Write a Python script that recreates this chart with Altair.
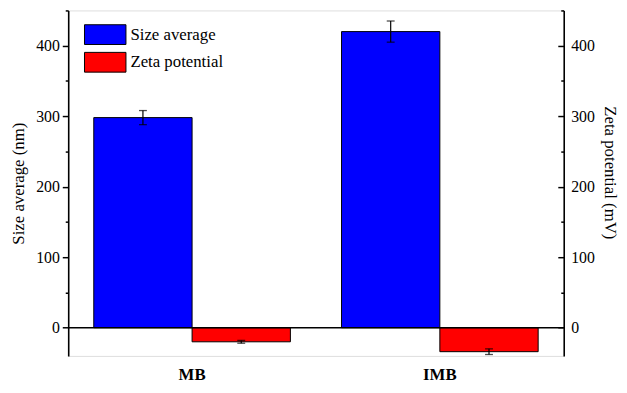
import altair as alt
import pandas as pd

categories = ["MB", "IMB"]
series = ["Size average", "Zeta potential"]
size_avg = [298, 420]
size_err = [10, 15]
zeta = [-20, -34]
zeta_err = [2, 4]
colors = ["#0000FF", "#FF0000"]
y_domain = [-40, 450]
tick_values = [0, 50, 100, 150, 200, 250, 300, 350, 400, 450]

rows = []
for i, c in enumerate(categories):
    rows.append({"sample": c, "series": series[0], "value": size_avg[i],
                 "lo": size_avg[i] - size_err[i], "hi": size_avg[i] + size_err[i]})
    rows.append({"sample": c, "series": series[1], "value": zeta[i],
                 "lo": zeta[i] - zeta_err[i], "hi": zeta[i] + zeta_err[i]})
df = pd.DataFrame(rows)
zero_df = pd.DataFrame({"z": [0]})

FONT = "Liberation Serif"
W, H = 502, 350

yscale = alt.Scale(domain=y_domain, nice=False, zero=False)
xenc = alt.X("sample:N", sort=categories,
             scale=alt.Scale(paddingInner=0, paddingOuter=0, range=[0, W]),
             axis=alt.Axis(title=None, labelAngle=0, domain=False, ticks=False,
                           labelFont=FONT, labelFontSize=17, labelFontWeight="bold",
                           labelColor="black", labelPadding=11))
xoff = alt.XOffset("series:N", sort=series,
                   scale=alt.Scale(paddingInner=0, paddingOuter=0.26))

tick_cond = {"condition": {"test": "datum.value % 100 !== 0", "value": 3}, "value": 6}
label_expr = "datum.value % 100 === 0 ? datum.label : ''"

left_axis = alt.Axis(orient="left", values=tick_values, labelExpr=label_expr,
                     title="Size average (nm)", titleFont=FONT, titleFontSize=17,
                     titleFontWeight="normal", titleColor="black", titlePadding=8,
                     labelFont=FONT, labelFontSize=16, labelColor="black", labelPadding=3,
                     domainColor="black", domainWidth=1.6, tickColor="black",
                     tickWidth=1.5, tickSize=tick_cond, grid=False)

right_axis = alt.Axis(orient="right", values=tick_values, labelExpr=label_expr,
                      title="Zeta potential (mV)", titleFont=FONT, titleFontSize=17,
                      titleFontWeight="normal", titleColor="black", titlePadding=6,
                      titleAngle=90, titleY=164,
                      labelFont=FONT, labelFontSize=16, labelColor="black", labelPadding=7,
                      domainColor="black", domainWidth=1.6, ticks=False, grid=False)

inner_tick_axis = alt.Axis(orient="left", offset=-W, values=tick_values, labels=False,
                           title=None, domain=False, tickColor="black", tickWidth=1.5,
                           tickSize=tick_cond, grid=False)

bars = alt.Chart(df).mark_bar(stroke="black", strokeWidth=1).encode(
    x=xenc,
    xOffset=xoff,
    y=alt.Y("value:Q", scale=yscale, axis=left_axis),
    color=alt.Color("series:N", sort=series,
                    scale=alt.Scale(domain=series, range=colors),
                    legend=alt.Legend(title=None, orient="none", legendX=27, legendY=14,
                                      symbolType="M-2.1,-1H2.1V1H-2.1Z", symbolSize=400,
                                      symbolStrokeColor="black", symbolStrokeWidth=1,
                                      symbolOpacity=1, labelFont=FONT, labelFontSize=17,
                                      labelColor="black", labelOffset=15, rowPadding=3,
                                      padding=0)),
)

err_rule = alt.Chart(df).mark_rule(color="black", strokeWidth=1.2).encode(
    x=alt.X("sample:N", sort=categories),
    xOffset=alt.XOffset("series:N", sort=series),
    y=alt.Y("lo:Q", scale=yscale, axis=None),
    y2="hi:Q",
)
err_lo = alt.Chart(df).mark_tick(color="black", size=8, thickness=1.3).encode(
    x=alt.X("sample:N", sort=categories),
    xOffset=alt.XOffset("series:N", sort=series),
    y=alt.Y("lo:Q", scale=yscale, axis=None),
)
err_hi = alt.Chart(df).mark_tick(color="black", size=8, thickness=1.3).encode(
    x=alt.X("sample:N", sort=categories),
    xOffset=alt.XOffset("series:N", sort=series),
    y=alt.Y("hi:Q", scale=yscale, axis=None),
)

zero_line = alt.Chart(zero_df).mark_rule(color="black", strokeWidth=1.6).encode(
    y=alt.Y("z:Q", scale=yscale, axis=right_axis),
)
inner_ticks = alt.Chart(zero_df).mark_rule(strokeOpacity=0).encode(
    y=alt.Y("z:Q", scale=yscale, axis=inner_tick_axis),
)

chart = alt.layer(bars, err_rule, err_lo, err_hi, zero_line, inner_ticks).resolve_axis(
    y="independent"
).properties(
    width=W, height=H,
    autosize=alt.AutoSizeParams(type="none"),
    padding={"left": 61, "top": 0, "right": 56, "bottom": 27},
).configure_view(stroke=None).configure(background="white")

chart.save("out.html", embed_options={"renderer": "svg", "actions": False})
